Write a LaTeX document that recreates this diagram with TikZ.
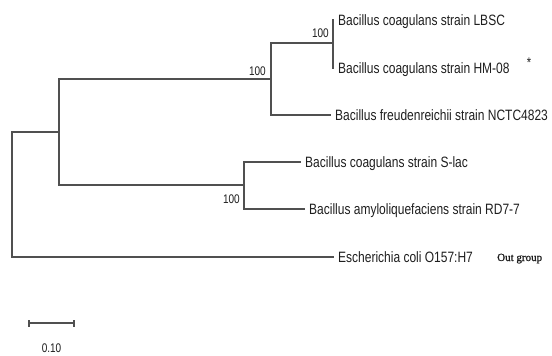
\documentclass[tikz,border=0pt]{standalone}
\usepackage{fontspec}
\setmainfont{Liberation Sans}[FakeStretch=0.8]
\newfontfamily\outfont{Liberation Serif}[FakeBold=1.2]
\definecolor{branch}{RGB}{80,80,80}
\definecolor{ink}{RGB}{30,30,30}
\begin{document}
\begin{tikzpicture}[x=1pt,y=-1pt,
  br/.style={draw=branch,line width=1.5pt,line cap=rect},
  taxon/.style={anchor=base west,inner sep=0pt,text=ink,font=\fontsize{15}{18}\selectfont},
  boot/.style={anchor=base east,inner sep=0pt,text=ink,font=\fontsize{12.5}{14}\selectfont},
  outg/.style={anchor=base west,inner sep=0pt,text=ink,font=\outfont\fontsize{11}{12}\selectfont}]
\useasboundingbox (0,0) rectangle (552,356);
% internal nodes
\coordinate (root) at (12,194.5);
\coordinate (A) at (59,132);
\coordinate (B) at (271,79);
\coordinate (C) at (333,43);
\coordinate (D) at (244,185);
% leaves
\coordinate (lbsc) at (333,20);
\coordinate (hm) at (333,68);
\coordinate (freud) at (330,115);
\coordinate (slac) at (300,162);
\coordinate (amylo) at (304,209);
\coordinate (ecoli) at (333,257);
% branches
\draw[br] (root) |- (A);
\draw[br] (root) |- (ecoli);
\draw[br] (A) |- (B);
\draw[br] (A) |- (D);
\draw[br] (B) |- (C);
\draw[br] (B) |- (freud);
\draw[br] (C) |- (lbsc);
\draw[br] (C) |- (hm);
\draw[br] (D) |- (slac);
\draw[br] (D) |- (amylo);
% taxon labels
\node[taxon] (tlbsc) at ([xshift=5pt,yshift=-5.5pt]lbsc) {Bacillus coagulans strain LBSC};
\node[taxon] (thm) at ([xshift=5pt,yshift=-5.5pt]hm) {Bacillus coagulans strain HM-08};
\node[taxon] (tfreud) at ([xshift=5pt,yshift=-5.5pt]freud) {Bacillus freudenreichii strain NCTC4823};
\node[taxon] (tslac) at ([xshift=5pt,yshift=-5.5pt]slac) {Bacillus coagulans strain S-lac};
\node[taxon] (tamylo) at ([xshift=5pt,yshift=-5.5pt]amylo) {Bacillus amyloliquefaciens strain RD7-7};
\node[taxon] (tecoli) at ([xshift=5pt,yshift=-5.5pt]ecoli) {Escherichia coli O157:H7};
\node[anchor=center,inner sep=0pt,text=ink,font=\fontsize{14}{14}\selectfont] (star) at (529,63) {*};
\node[outg] (out) at (497,261) {Out group};
% bootstrap values
\node[boot] (bC) at (329,37) {100};
\node[boot] (bB) at (266,75) {100};
\node[boot] (bD) at (240,203) {100};
% scale bar
\coordinate (s1) at (29,323);
\coordinate (s2) at (74,323);
\draw[br,line width=1.2pt,line cap=butt] (s1) -- (s2);
\draw[br,line width=1.2pt,line cap=butt] ([yshift=-3.5pt]s1) -- ([yshift=3.5pt]s1);
\draw[br,line width=1.2pt,line cap=butt] ([yshift=-3.5pt]s2) -- ([yshift=3.5pt]s2);
\node[anchor=base,inner sep=0pt,text=ink,font=\fontsize{12.5}{14}\selectfont] (scale) at (51.5,352.5) {0.10};
\end{tikzpicture}
\end{document}
